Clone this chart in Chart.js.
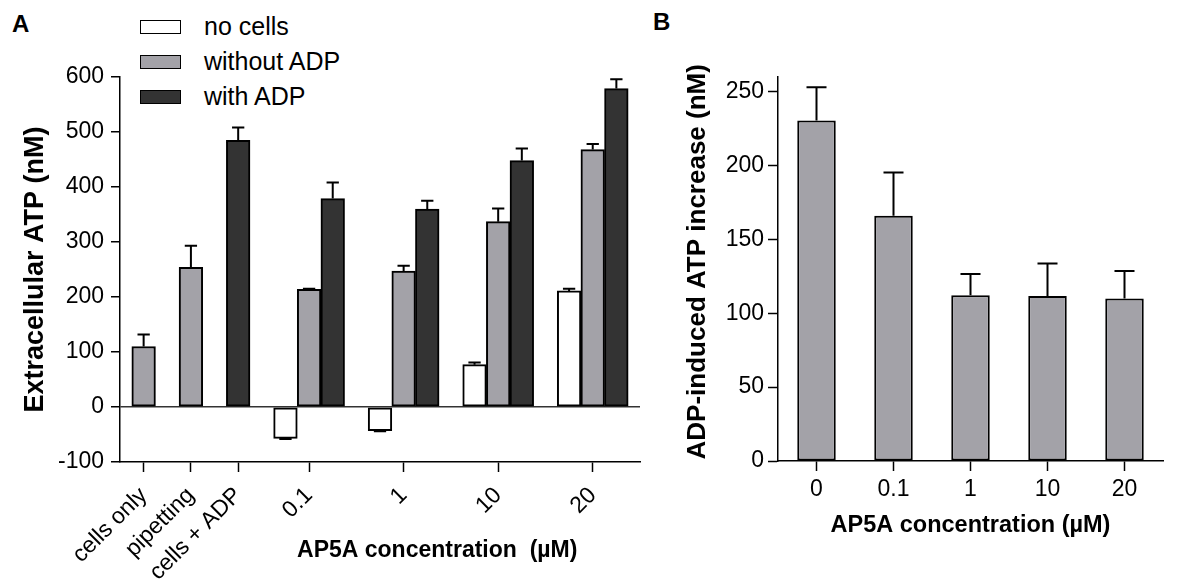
<!DOCTYPE html>
<html>
<head>
<meta charset="utf-8">
<script src="https://cdn.jsdelivr.net/npm/chart.js@4.4.1/dist/chart.umd.min.js"></script>
<style>
  html, body { margin: 0; padding: 0; background: #fff; }
  body { width: 1189px; height: 585px; position: relative; overflow: hidden;
         font-family: 'Liberation Sans', Arial, sans-serif; color: #000; }
  #chartA { position: absolute; left: 0; top: 0; }
  #chartB { position: absolute; left: 640px; top: 0; }
  .panel { position: absolute; font-weight: bold; font-size: 24px; line-height: 24px; }
  #legend { position: absolute; left: 140px; top: 9px; }
  .item { display: flex; align-items: center; height: 35px; font-size: 25px; }
  .box { width: 39px; height: 12px; border: 1.5px solid #000; margin-right: 23px; }
</style>
</head>
<body>
<div class="panel" style="left:12px; top:12px;">A</div>
<div class="panel" style="left:653px; top:10px;">B</div>
<div id="legend"></div>
<canvas id="chartA" width="660" height="585"></canvas>
<canvas id="chartB" width="549" height="585"></canvas>
<script>
// Panel A data
const groupsA = ['cells only', 'pipetting', 'cells + ADP', '0.1', '1', '10', '20'];
const noCells = [null, null, null, -57, -43, 77, 211];
const noCellsErr = [null, null, null, 1, 1, 4, 4];
const withoutADP = [110, 254, null, 214, 247, 337, 468];
const withoutADPErr = [22, 39, null, 1, 10, 24, 10];
const withADP = [null, null, 485, 379, 360, 448, 579];
const withADPErr = [null, null, 23, 29, 15, 22, 17];
const seriesNames = ['no cells', 'without ADP', 'with ADP'];
const seriesColors = ['#ffffff', '#a3a2a8', '#333333'];

// Panel B data
const concB = ['0', '0.1', '1', '10', '20'];
const increaseB = [230.6, 166, 112.2, 111.7, 110.1];
const increaseErr = [22.4, 29.3, 14.4, 22.1, 18.5];

const FONT = "'Liberation Sans', Arial, sans-serif";
Chart.defaults.font.family = FONT;
Chart.defaults.color = '#000';

// slot layout on the x axis: the first three columns stand alone, the rest are groups of three
function groupCenter(i) {
  return i < 3 ? 2 * i : 7 + 4 * (i - 3);
}
const tickPosA = groupsA.map((g, i) => groupCenter(i));

function place(values, errs, offset) {
  const pts = [];
  values.forEach((v, i) => {
    if (v === null) return;
    pts.push({ x: groupCenter(i) + (i < 3 ? 0 : offset), y: v, e: errs[i] });
  });
  return pts;
}

// error bars (upwards, or downwards for negative bars)
const errorBars = {
  id: 'errorBars',
  afterDatasetsDraw(chart) {
    const ctx = chart.ctx;
    const yScale = chart.scales.y;
    ctx.save();
    ctx.strokeStyle = '#000';
    ctx.lineWidth = 2;
    chart.data.datasets.forEach((ds, di) => {
      const meta = chart.getDatasetMeta(di);
      meta.data.forEach((bar, i) => {
        const raw = ds.data[i];
        const v = typeof raw === 'object' ? raw.y : raw;
        const e = typeof raw === 'object' ? raw.e : ds.errors[i];
        if (v == null || e == null) return;
        const y0 = yScale.getPixelForValue(v);
        const y1 = yScale.getPixelForValue(v < 0 ? v - e : v + e);
        const half = bar.width * 0.26;
        ctx.beginPath();
        ctx.moveTo(bar.x, y0);
        ctx.lineTo(bar.x, y1);
        ctx.moveTo(bar.x - half, y1);
        ctx.lineTo(bar.x + half, y1);
        ctx.stroke();
      });
    });
    ctx.restore();
  }
};

// x title of panel A sits right of the axis centre
const titleA = {
  id: 'titleA',
  afterDraw(chart) {
    const ctx = chart.ctx;
    const area = chart.chartArea;
    ctx.save();
    ctx.font = 'bold 23px ' + FONT;
    ctx.fillStyle = '#000';
    ctx.textAlign = 'center';
    ctx.textBaseline = 'middle';
    ctx.fillText('AP5A concentration  (\u00b5M)', area.left + area.width * 0.61, 551);
    ctx.restore();
  }
};

// legend
const legend = document.getElementById('legend');
seriesNames.forEach((name, i) => {
  const row = document.createElement('div');
  row.className = 'item';
  row.innerHTML = '<div class="box" style="background:' + seriesColors[i] + '"></div><span>' + name + '</span>';
  legend.appendChild(row);
});

const barStyle = { borderColor: '#000', borderWidth: 2, borderSkipped: false };

new Chart(document.getElementById('chartA'), {
  type: 'bar',
  data: {
    datasets: [
      Object.assign({ label: seriesNames[0], data: place(noCells, noCellsErr, -1), backgroundColor: seriesColors[0] }, barStyle),
      Object.assign({ label: seriesNames[1], data: place(withoutADP, withoutADPErr, 0), backgroundColor: seriesColors[1] }, barStyle),
      Object.assign({ label: seriesNames[2], data: place(withADP, withADPErr, 1), backgroundColor: seriesColors[2] }, barStyle)
    ]
  },
  options: {
    responsive: false,
    animation: false,
    layout: { padding: { top: 77, right: 20, left: 0, bottom: 0 } },
    datasets: { bar: { grouped: false, barPercentage: 1, categoryPercentage: 1 } },
    plugins: { legend: { display: false }, tooltip: { enabled: false } },
    scales: {
      x: {
        type: 'linear',
        offset: false,
        min: -1,
        max: 21,
        afterBuildTicks: s => { s.ticks = tickPosA.map(v => ({ value: v })); },
        afterFit: s => { s.height = 123; },
        ticks: {
          autoSkip: false,
          minRotation: 45,
          maxRotation: 45,
          padding: 10,
          font: { size: 23 },
          callback: v => groupsA[tickPosA.indexOf(v)]
        },
        grid: { drawOnChartArea: false, offset: false, tickLength: 10, tickColor: '#000', tickWidth: 1.5 },
        border: { color: '#000', width: 1.5 }
      },
      y: {
        min: -100,
        max: 600,
        ticks: { stepSize: 100, padding: 7, font: { size: 23 } },
        afterFit: s => { s.width = 120; },
        grid: {
          color: c => (c.tick && c.tick.value === 0 ? '#333' : 'rgba(0,0,0,0)'),
          lineWidth: 1.5,
          tickLength: 9,
          tickColor: '#000',
          tickWidth: 1.5
        },
        border: { color: '#000', width: 1.5 },
        title: {
          display: true,
          text: 'Extracellular ATP (nM)',
          font: { size: 27, weight: 'bold' },
          padding: { top: 19, bottom: 0 }
        }
      }
    }
  },
  plugins: [errorBars, titleA]
});

new Chart(document.getElementById('chartB'), {
  type: 'bar',
  data: {
    labels: concB,
    datasets: [Object.assign({
      label: 'ADP-induced ATP increase',
      data: increaseB,
      errors: increaseErr,
      backgroundColor: seriesColors[1]
    }, barStyle)]
  },
  options: {
    responsive: false,
    animation: false,
    layout: { padding: { top: 77, right: 26, left: 0, bottom: 0 } },
    datasets: { bar: { barPercentage: 1, categoryPercentage: 0.5 } },
    plugins: { legend: { display: false }, tooltip: { enabled: false } },
    scales: {
      x: {
        afterFit: s => { s.height = 124; },
        ticks: { padding: 5, font: { size: 23 } },
        grid: { drawOnChartArea: false, offset: false, tickLength: 10, tickColor: '#000', tickWidth: 1.5 },
        border: { color: '#000', width: 1.5 },
        title: {
          display: true,
          text: 'AP5A concentration (\u00b5M)',
          font: { size: 23.5, weight: 'bold' },
          padding: { top: 0, bottom: 45 }
        }
      },
      y: {
        min: 0,
        max: 260,
        ticks: { stepSize: 50, includeBounds: false, padding: 4, font: { size: 23 } },
        afterBuildTicks: s => { s.ticks = s.ticks.filter(t => t.value % 50 === 0); },
        afterFit: s => { s.width = 138; },
        grid: { drawOnChartArea: false, tickLength: 10, tickColor: '#000', tickWidth: 1.5 },
        border: { color: '#000', width: 1.5 },
        title: {
          display: true,
          text: '  ADP-induced ATP increase (nM)',
          font: { size: 26, weight: 'bold' },
          padding: { top: 42, bottom: 0 }
        }
      }
    }
  },
  plugins: [errorBars]
});
</script>
</body>
</html>
